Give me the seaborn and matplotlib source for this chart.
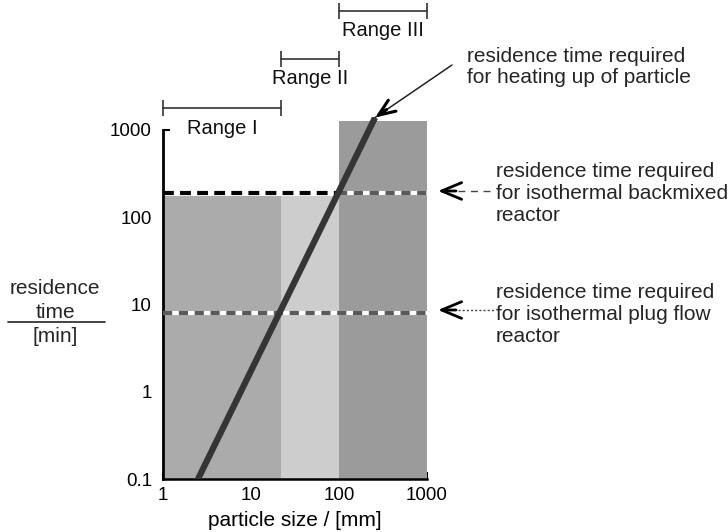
import matplotlib
matplotlib.use("Agg")
import matplotlib.pyplot as plt
import matplotlib.transforms as mtransforms
from matplotlib.lines import Line2D
import numpy as np
import seaborn as sns

sns.set_theme(style="ticks")
plt.rcParams['font.family'] = ['Liberation Sans', 'DejaVu Sans']

# particle size ranges [mm]
range_names = ["Range I", "Range II", "Range III"]
range_lo = [1, 22, 100]
range_hi = [22, 100, 1000]
range_top = [175, 175, 1250]          # top of shaded block [min]

# residence time for heating up of particle
heat_size = [2.5, 257]
heat_time = [0.1, 1380]

# isothermal reactors [min]
t_backmixed = 190
t_plugflow = 8

x_ticks = [1, 10, 100, 1000]
x_labels = ["1", "10", "100", "1000"]
y_ticks = [0.1, 1, 10, 100, 1000]
y_labels = ["0.1", "1", "10", "100", "1000"]

shade = ["#ababab", "#cdcdcd", "#9b9b9b"]
W, H = 728, 532


def fx(px):
    return px / W


def fy(py):
    return 1 - py / H


fig = plt.figure(figsize=(W / 100, H / 100), dpi=100)
ax = fig.add_axes([fx(163), fy(479), 264 / W, (479 - 117) / H])
ax.set_xscale('log')
ax.set_yscale('log')
ax.set_xlim(1, 1000)
ax.set_ylim(0.1, 1400)

# shaded ranges
ax.bar(range_lo, np.array(range_top) - 0.1, width=np.subtract(range_hi, range_lo),
       bottom=0.1, align='edge', color=shade, lw=0, zorder=1)

# where the heating line meets the backmixed level
lx, ly = np.log10(heat_size), np.log10(heat_time)
cross = 10 ** np.interp(np.log10(t_backmixed), ly, lx)

# backmixed level: black on white, grey/white over range III
ax.plot([1, cross], [t_backmixed] * 2, color='black', lw=3, dashes=(2.6, 1.5),
        dash_capstyle='butt', zorder=3)
ax.plot([cross, 1000], [t_backmixed] * 2, color='white', lw=3, zorder=3)
ax.plot([cross, 1000], [t_backmixed] * 2, color='#5a5a5a', lw=3, dashes=(2.2, 1.6),
        dash_capstyle='butt', zorder=3)

# plug flow level
ax.plot([1, 1000], [t_plugflow] * 2, color='white', lw=3, zorder=3)
ax.plot([1, 1000], [t_plugflow] * 2, color='#5a5a5a', lw=3, dashes=(2.2, 1.6),
        dash_capstyle='butt', zorder=3)

# heating up line
sns.lineplot(x=heat_size, y=heat_time, ax=ax, color='#353535', lw=4.5,
             solid_capstyle='butt', zorder=5)

# axes look
sns.despine(ax=ax)
ax.spines['left'].set_bounds(0.1, 1000)
ax.spines['left'].set_linewidth(2)
ax.spines['bottom'].set_linewidth(1.8)
ax.spines['left'].set_color('black')
ax.spines['bottom'].set_color('black')
ax.set_xticks(x_ticks, labels=x_labels)
ax.set_yticks(y_ticks, labels=y_labels)
ax.xaxis.set_minor_locator(matplotlib.ticker.NullLocator())
ax.yaxis.set_minor_locator(matplotlib.ticker.NullLocator())
ax.tick_params(direction='in', length=5, width=1.5, colors='black', labelsize=13.5)
ax.tick_params(axis='y', pad=8)
ax.tick_params(axis='x', pad=6)
ax.set_xlabel('particle size / [mm]', fontsize=15, labelpad=5, color='black')

# range brackets on top
trans = mtransforms.blended_transform_factory(ax.transData, fig.transFigure)
bracket_y = [108, 59, 11]
for name, lo, hi, yb in zip(range_names, range_lo, range_hi, bracket_y):
    ax.plot([lo, hi], [fy(yb)] * 2, transform=trans, color='#333333', lw=1.2, clip_on=False)
    ax.plot([lo, hi], [fy(yb)] * 2, transform=trans, ls='none', marker='|', ms=12,
            mew=1.2, color='#333333', clip_on=False)
    ax.text(np.sqrt(lo * hi), fy(yb + 20), name, transform=trans, ha='center',
            va='center', fontsize=14.5, color='#111111')

# y label drawn as a fraction
fig.text(fx(55), fy(289), "residence", ha='center', va='center', fontsize=15)
fig.text(fx(55), fy(313), "time", ha='center', va='center', fontsize=15)
fig.add_artist(Line2D([fx(8), fx(105)], [fy(322), fy(322)], color='#222222', lw=1.2))
fig.text(fx(55), fy(337), "[min]", ha='center', va='center', fontsize=15)

# annotations on the right
tip = (heat_size[1], heat_time[1])
ax.annotate('', xy=tip, xycoords='data', xytext=(fx(452), fy(65)),
            textcoords='figure fraction',
            arrowprops=dict(arrowstyle='-', color='#222222', lw=1.1, shrinkA=0, shrinkB=0))
ax.annotate('', xy=tip, xycoords='data', xytext=(11.5, 8), textcoords='offset pixels',
            arrowprops=dict(arrowstyle='->,head_length=1.0,head_width=0.4', color='black',
                            lw=2.2, shrinkA=0, shrinkB=0))
fig.text(fx(467), fy(47), "residence time required\nfor heating up of particle",
         ha='left', va='top', fontsize=15, linespacing=1.14)

for ty, txt, style, top in [(191, "residence time required\nfor isothermal backmixed\nreactor",
                             (0, (5, 4)), 162),
                            (310, "residence time required\nfor isothermal plug flow\nreactor",
                             (0, (1.5, 1.5)), 283)]:
    ax.annotate('', xy=(fx(438), fy(ty)), xycoords='figure fraction',
                xytext=(fx(456), fy(ty)), textcoords='figure fraction',
                arrowprops=dict(arrowstyle='->,head_length=1.2,head_width=0.5',
                                color='black', lw=2, shrinkA=0, shrinkB=0))
    fig.add_artist(Line2D([fx(458), fx(494)], [fy(ty), fy(ty)], color='#444444', lw=1,
                          linestyle=style))
    fig.text(fx(496), fy(top), txt, ha='left', va='top', fontsize=15, linespacing=1.19)

fig.savefig('out.png', dpi=100)
